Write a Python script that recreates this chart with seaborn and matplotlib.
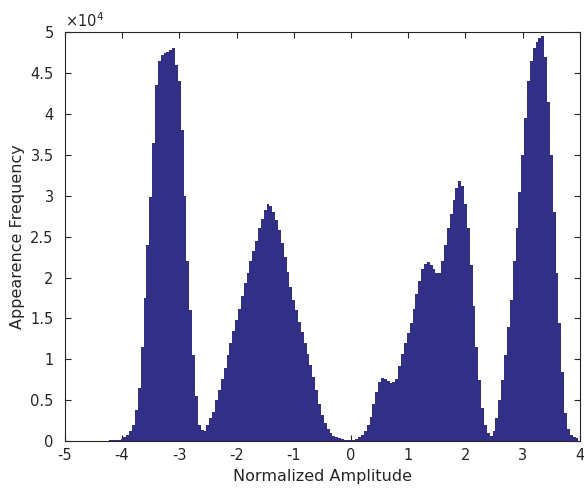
import numpy as np
import pandas as pd
import matplotlib
matplotlib.use('Agg')
import matplotlib.pyplot as plt
import seaborn as sns
from matplotlib.ticker import FuncFormatter

# bin centres (step 0.05) and counts in units of 1e4
bin_start = -4.20
bin_width = 0.05

freq_peak1 = [0.01, 0.01, 0.02, 0.02, 0.03, 0.05, 0.08, 0.12, 0.20, 0.38,
              0.65, 1.15, 1.75, 2.40, 2.98, 3.65, 4.35, 4.65, 4.72, 4.74,
              4.76, 4.78, 4.80, 4.60, 4.40, 3.80, 3.00, 2.20, 1.60, 1.05,
              0.55, 0.20, 0.14, 0.13]
freq_peak2 = [0.20, 0.28, 0.36, 0.50, 0.62, 0.76, 0.90, 1.05, 1.20, 1.35,
              1.48, 1.62, 1.78, 1.93, 2.06, 2.20, 2.32, 2.45, 2.60, 2.72,
              2.82, 2.90, 2.88, 2.80, 2.70, 2.58, 2.42, 2.25, 2.07, 1.88,
              1.72, 1.60, 1.46, 1.33, 1.20, 1.06, 0.93, 0.78, 0.62, 0.45,
              0.32, 0.22, 0.15, 0.10, 0.07, 0.05, 0.04, 0.03, 0.02, 0.02,
              0.02, 0.02, 0.03]
freq_peak3 = [0.05, 0.08, 0.13, 0.20, 0.30, 0.45, 0.60, 0.72, 0.77, 0.76,
              0.73, 0.71, 0.72, 0.76, 0.92, 1.06, 1.20, 1.32, 1.45, 1.62,
              1.80, 1.96, 2.10, 2.17, 2.19, 2.15, 2.10, 2.05, 2.06, 2.20,
              2.40, 2.60, 2.78, 2.95, 3.10, 3.18, 3.12, 2.90, 2.60, 2.15,
              1.65, 1.15, 0.75, 0.40, 0.20, 0.10, 0.07]
freq_peak4 = [0.12, 0.28, 0.50, 0.75, 1.05, 1.40, 1.72, 2.20, 2.60, 3.05,
              3.50, 3.95, 4.40, 4.65, 4.80, 4.88, 4.93, 4.95, 4.70, 4.15,
              3.50, 2.80, 2.05, 1.45, 0.85, 0.35, 0.15, 0.08, 0.05, 0.04]

x_ticks = [-5, -4, -3, -2, -1, 0, 1, 2, 3, 4]
y_ticks = [0, 0.5, 1, 1.5, 2, 2.5, 3, 3.5, 4, 4.5, 5]
scale = 1e4

counts = np.array(freq_peak1 + freq_peak2 + freq_peak3 + freq_peak4) * scale
centers = bin_start + bin_width * np.arange(len(counts))
lo = centers[0] - bin_width / 2
hi = centers[-1] + bin_width / 2
df = pd.DataFrame({'amp': centers, 'count': counts})

sns.set_style('ticks')
plt.rcParams['font.family'] = ['DejaVu Sans']
plt.rcParams['axes.unicode_minus'] = False

fig = plt.figure(figsize=(5.84, 4.93), dpi=100)
ax = fig.add_axes([0.111, 0.105, 0.882, 0.83])

sns.histplot(data=df, x='amp', weights='count', binwidth=bin_width,
             binrange=(lo, hi), element='step', fill=True,
             color='#322F87', alpha=1, linewidth=0, ax=ax)

ax.set_xlim(-5, 4)
ax.set_ylim(0, 5 * scale)
ax.set_xticks(x_ticks)
ax.set_yticks([v * scale for v in y_ticks])
ax.yaxis.set_major_formatter(FuncFormatter(lambda v, p: '%g' % (v / scale)))

ax.tick_params(direction='in', length=4, width=0.8, top=True, right=True,
               labelsize=10.5, colors='#262626', pad=5)
ax.tick_params(axis='y', pad=8)
for s in ax.spines.values():
    s.set_visible(True)
    s.set_color('#262626')
    s.set_linewidth(0.8)

ax.text(0.0, 1.005, r'$\times10^{4}$', transform=ax.transAxes,
        ha='left', va='bottom', fontsize=10.5, color='#262626')

ax.set_xlabel('Normalized Amplitude', fontsize=11.5, color='#262626')
ax.set_ylabel('Appearence Frequency', fontsize=11.5, color='#262626')

plt.savefig('out.png', dpi=100)
